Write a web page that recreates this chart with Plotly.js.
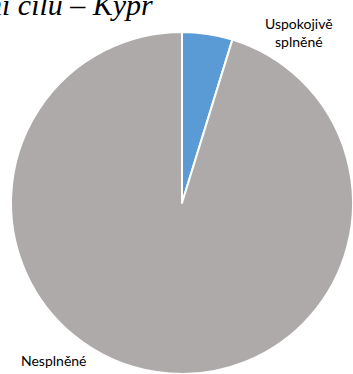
<!DOCTYPE html>
<html>
<head>
<meta charset="utf-8">
<script src="https://cdn.plot.ly/plotly-3.0.1.min.js"></script>
<style>html,body{margin:0;padding:0;background:#fff;}#chart{width:353px;height:374px;}</style>
</head>
<body>
<div id="chart"></div>
<script>
const titleText = "Plnění cílů – Kypr";
const categories = ["Uspokojivě<br>splněné", "Nesplněné"];
const values = [1, 20];
const colors = ["#5B9BD5", "#AEAAAA"];
const labelPos = [[0.846, 0.914], [0.153, 0.035]];

const W = 353, H = 374;
const trace = {
  type: "pie",
  labels: categories,
  values: values,
  sort: false,
  direction: "clockwise",
  rotation: 0,
  textinfo: "none",
  hoverinfo: "label+percent",
  marker: {colors: colors, line: {color: "#ffffff", width: 2}},
  domain: {x: [11 / W, 353 / W], y: [0, 342 / H]},
  showlegend: false
};
const annotations = categories.map((c, i) => ({
  text: c, xref: "paper", yref: "paper", x: labelPos[i][0], y: labelPos[i][1],
  showarrow: false, xanchor: "center", yanchor: "middle",
  font: {family: "Lato", size: 14, color: "#000"}
}));
annotations.push({
  text: titleText, xref: "paper", yref: "paper", x: 155 / W, y: (H - 23) / H,
  xanchor: "right", yanchor: "bottom", showarrow: false,
  font: {family: "Liberation Serif", size: 30, color: "#000", style: "italic"}
});
const layout = {
  width: W, height: H,
  margin: {l: 0, r: 0, t: 0, b: 0},
  paper_bgcolor: "#ffffff",
  annotations: annotations
};
Plotly.newPlot("chart", [trace], layout, {displayModeBar: false, staticPlot: true});
</script>
</body>
</html>
